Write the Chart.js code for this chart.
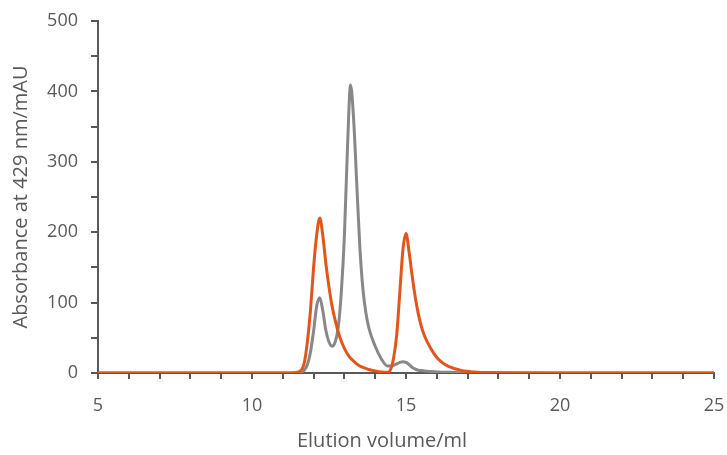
<!DOCTYPE html>
<html>
<head>
<meta charset="utf-8">
<script src="https://cdn.jsdelivr.net/npm/chart.js@4/dist/chart.umd.min.js"></script>
<style>
  html, body { margin: 0; padding: 0; background: #ffffff; }
  #wrap { width: 727px; height: 455px; position: relative; }
</style>
</head>
<body>
<div id="wrap"><canvas id="c" width="727" height="455"></canvas></div>
<script>
// Elution volume (ml)
const volume = [5, 10, 11, 11.4, 11.6, 11.7, 11.8, 11.9, 12.0, 12.1, 12.2, 12.3, 12.4, 12.5, 12.6, 12.7, 12.8, 12.9, 13.0, 13.1, 13.2, 13.3, 13.4, 13.5, 13.6, 13.7, 13.8, 14.0, 14.2, 14.4, 14.5, 14.6, 14.7, 14.8, 14.9, 15.0, 15.1, 15.2, 15.3, 15.4, 15.5, 15.6, 15.8, 16.0, 16.2, 16.4, 16.8, 17.2, 18, 20, 25];
// Absorbance at 429 nm (mAU), orange trace
const absOrange = [0, 0, 0, 0.5, 4, 15, 45, 90, 150, 196, 220, 195, 155, 122, 95, 75, 58, 45, 35, 27, 21, 17, 13, 10, 8, 6.5, 5, 3, 1.5, 1, 5, 22, 55, 115, 175, 198, 172, 138, 108, 84, 66, 53, 35, 22, 14, 9, 3.5, 1.5, 0.5, 0, 0];
// Absorbance at 429 nm (mAU), grey trace
const absGray = [0, 0, 0, 0, 1, 4, 12, 30, 60, 95, 107, 88, 60, 44, 38, 44, 65, 115, 195, 320, 409, 360, 270, 180, 120, 85, 63, 38, 20, 10, 10, 11, 13, 15, 16, 15, 12, 8, 5.5, 4, 3.5, 3, 2, 1.5, 1, 1, 0.5, 0.5, 0.3, 0, 0];
const xTickLabels = [5, 10, 15, 20, 25];
const yTickLabels = [0, 100, 200, 300, 400, 500];
const xTitle = 'Elution volume/ml';
const yTitle = 'Absorbance at 429 nm/mAU';

const toPts = (ys) => volume.map((x, i) => ({ x: x, y: ys[i] }));

const axisColor = '#595959';
const labelColor = '#595959';
const fontFam = "'Open Sans', 'Liberation Sans', sans-serif";

// x-axis title sits left of the plot centre in the reference
const xTitlePlugin = {
  id: 'xTitle',
  afterDraw(chart) {
    const ctx = chart.ctx;
    ctx.save();
    ctx.fillStyle = labelColor;
    ctx.font = "20px " + fontFam;
    ctx.textAlign = 'center';
    ctx.textBaseline = 'middle';
    ctx.fillText(xTitle, 382, 441);
    ctx.restore();
  }
};

new Chart(document.getElementById('c'), {
  type: 'line',
  data: {
    datasets: [
      {
        label: 'orange',
        data: toPts(absOrange),
        borderColor: '#E0561B',
        borderWidth: 3,
        pointRadius: 0,
        cubicInterpolationMode: 'monotone',
        fill: false,
        order: 1
      },
      {
        label: 'grey',
        data: toPts(absGray),
        borderColor: '#888888',
        borderWidth: 3,
        pointRadius: 0,
        cubicInterpolationMode: 'monotone',
        fill: false,
        order: 2
      }
    ]
  },
  options: {
    responsive: false,
    animation: false,
    devicePixelRatio: 1,
    layout: { padding: { left: 0, right: 13, top: 21, bottom: 0 } },
    plugins: { legend: { display: false }, tooltip: { enabled: false } },
    scales: {
      x: {
        type: 'linear',
        min: 5, max: 25,
        afterFit: (s) => { s.height = 82; s.paddingLeft = 0; s.paddingRight = 0; },
        grid: { drawOnChartArea: false, drawTicks: true, tickLength: 6, color: axisColor, lineWidth: 2 },
        border: { display: true, color: axisColor, width: 2 },
        ticks: {
          stepSize: 1, autoSkip: false, maxRotation: 0, padding: 16,
          color: labelColor, font: { family: fontFam, size: 18 },
          callback: (v) => xTickLabels.includes(v) ? String(v) : ''
        },
        title: { display: false }
      },
      y: {
        min: 0, max: 500,
        afterFit: (s) => { s.width = 98; s.paddingTop = 0; s.paddingBottom = 0; },
        grid: { drawOnChartArea: false, drawTicks: true, tickLength: 7, color: axisColor, lineWidth: 2 },
        border: { display: true, color: axisColor, width: 2 },
        ticks: {
          stepSize: 50, autoSkip: false, padding: 13,
          color: labelColor, font: { family: fontFam, size: 18 },
          callback: (v) => yTickLabels.includes(v) ? String(v) : ''
        },
        title: {
          display: true, text: yTitle, color: labelColor,
          font: { family: fontFam, size: 20 }, padding: { top: 9, bottom: 0 }
        }
      }
    }
  },
  plugins: [xTitlePlugin]
});
</script>
</body>
</html>
